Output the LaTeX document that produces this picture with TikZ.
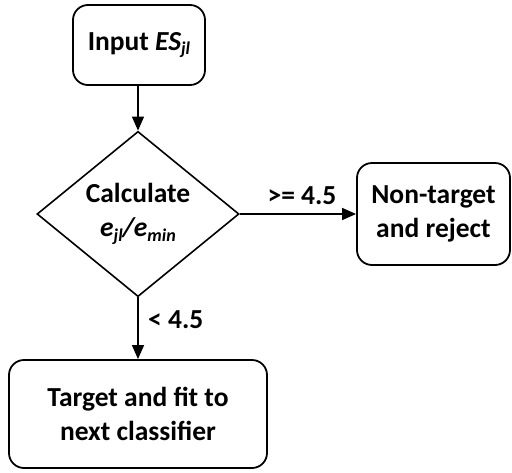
\documentclass[tikz,border=0pt]{standalone}
\usepackage{fontspec}
\setmainfont{Carlito}
\usetikzlibrary{arrows.meta,shapes.geometric}

\newcommand{\subtxt}[1]{\raisebox{-0.35ex}{\fontsize{18}{18}\selectfont #1}}

\tikzset{
  stepbox/.style={draw, line width=1.8pt, rounded corners=15pt, align=center,
    font=\fontsize{27.5}{34}\selectfont\bfseries, inner sep=0pt},
  decide/.style={draw, diamond, line width=1.6pt, align=center, inner sep=0pt,
    font=\fontsize{27.5}{34}\selectfont\bfseries},
  flow/.style={line width=1.4pt, -{Triangle[length=14pt,width=12pt]}},
  lbl/.style={font=\fontsize{27.5}{30}\selectfont\bfseries, inner sep=0pt}
}

\begin{document}
\begin{tikzpicture}[x=1pt,y=-1pt]
  \useasboundingbox (0,0) rectangle (512,472);

  \node[stepbox, minimum width=132pt, minimum height=80pt] (input) at (139,45)
    {Input \textit{ES\subtxt{jl}}};
  \node[decide, minimum width=202pt, minimum height=158pt] (calc) at (138,214)
    {Calculate\\\textit{e\subtxt{jl}/e\subtxt{min}}};
  \node[stepbox, minimum width=153pt, minimum height=102pt] (reject) at (433.5,214)
    {Non-target\\and reject};
  \node[stepbox, minimum width=258pt, minimum height=108pt] (target) at (138,414)
    {Target and fit to\\next classifier};

  \draw[flow] (input.south -| calc.north) -- (calc.north);
  \draw[flow] (calc.east) -- (reject.west);
  \draw[flow] (calc.south) -- (target.north);

  \node[lbl] (ge) at (302,196) {>= 4.5};
  \node[lbl, anchor=west] (lt) at (148,320) {< 4.5};
\end{tikzpicture}
\end{document}
